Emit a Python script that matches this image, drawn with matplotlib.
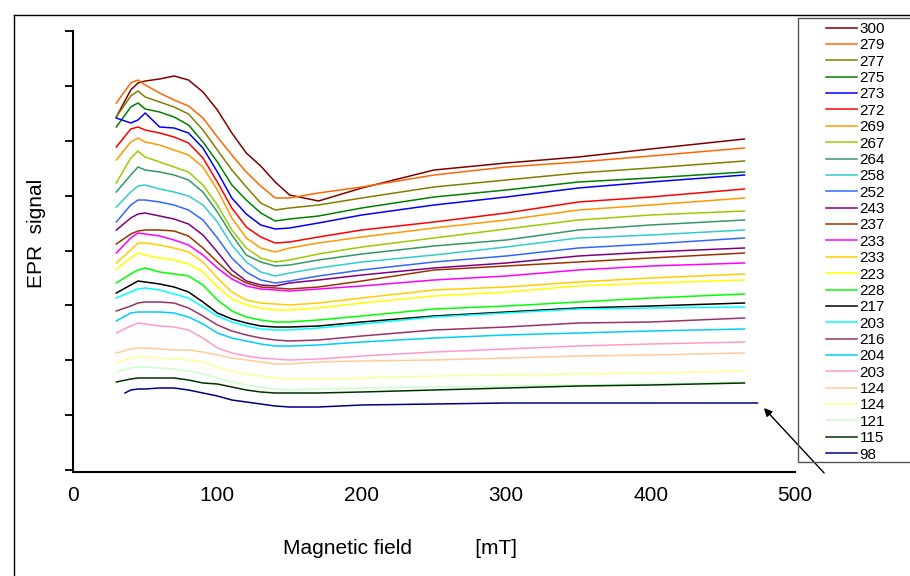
import numpy as np
import matplotlib
matplotlib.use("Agg")
import matplotlib.pyplot as plt
from matplotlib.patches import Rectangle
from matplotlib.lines import Line2D

plt.rcParams['font.family'] = ['Liberation Sans', 'DejaVu Sans']

# magnetic field (mT) where the traces were read
field = [30, 40, 45, 50, 60, 70, 80, 90, 100, 110, 120, 130, 140, 150, 170, 200, 250, 300, 350, 400, 465]
field_98 = [36, 40, 45, 50, 60, 70, 80, 90, 100, 110, 120, 130, 140, 150, 170, 200, 250, 300, 350, 400, 474]

# EPR signal (arbitrary units, stacked)
t300 = [353, 380, 387, 389, 391, 394, 390, 378, 360, 337, 317, 304, 288, 275, 269, 282, 300, 307, 313, 321, 331]
t279 = [367, 387, 390, 385, 377, 370, 364, 352, 333, 315, 298, 284, 272, 272, 277, 283, 295, 303, 308, 314, 322]
t277 = [353, 374, 379, 373, 368, 363, 356, 340, 320, 300, 283, 267, 260, 262, 265, 272, 283, 290, 297, 302, 309]
t275 = [343, 363, 367, 361, 358, 353, 345, 328, 308, 285, 270, 257, 249, 251, 254, 262, 273, 280, 288, 292, 298]
t273 = [352, 347, 350, 357, 343, 342, 337, 322, 298, 272, 256, 245, 241, 242, 247, 255, 265, 273, 282, 288, 295]
t272 = [323, 341, 343, 340, 337, 333, 327, 312, 288, 262, 243, 233, 227, 228, 233, 240, 248, 257, 268, 273, 281]
t269 = [310, 328, 332, 328, 325, 320, 315, 303, 280, 252, 232, 222, 218, 222, 227, 233, 242, 250, 260, 265, 272]
t267 = [287, 312, 319, 313, 308, 303, 298, 285, 265, 240, 222, 212, 208, 210, 216, 223, 232, 241, 250, 255, 259]
t264 = [278, 295, 303, 300, 298, 295, 290, 278, 258, 235, 215, 208, 204, 205, 210, 216, 224, 230, 240, 245, 250]
t258 = [263, 278, 284, 285, 281, 278, 274, 265, 248, 225, 208, 198, 194, 197, 202, 208, 215, 223, 232, 235, 240]
t252 = [248, 265, 270, 270, 268, 265, 260, 250, 232, 212, 198, 190, 187, 189, 194, 200, 208, 214, 222, 226, 232]
t243 = [240, 252, 256, 257, 254, 251, 246, 235, 218, 200, 189, 185, 184, 187, 190, 195, 202, 207, 214, 218, 222]
t237 = [226, 236, 239, 240, 240, 239, 234, 222, 208, 195, 187, 183, 182, 181, 183, 189, 200, 204, 208, 212, 217]
t233a = [217, 232, 237, 236, 234, 230, 225, 215, 202, 191, 184, 181, 180, 179, 181, 184, 190, 194, 200, 204, 207]
t233b = [207, 220, 227, 227, 225, 222, 218, 208, 192, 178, 170, 167, 166, 165, 167, 172, 180, 183, 188, 192, 196]
t223 = [201, 212, 217, 215, 212, 210, 206, 198, 183, 171, 165, 162, 160, 160, 162, 167, 174, 178, 184, 187, 190]
t228 = [187, 196, 200, 202, 198, 196, 194, 185, 170, 159, 153, 150, 148, 148, 150, 154, 161, 164, 168, 172, 176]
t217 = [177, 185, 189, 188, 186, 183, 178, 168, 157, 151, 147, 144, 143, 143, 144, 148, 154, 158, 162, 164, 167]
t203a = [172, 178, 181, 182, 180, 176, 172, 163, 154, 148, 144, 141, 140, 140, 142, 146, 153, 157, 161, 162, 163]
t216 = [159, 164, 167, 168, 168, 167, 162, 154, 145, 139, 135, 132, 130, 129, 130, 134, 140, 143, 147, 148, 152]
t204 = [149, 157, 158, 158, 158, 157, 153, 146, 137, 132, 129, 126, 124, 124, 125, 128, 132, 135, 137, 139, 141]
t203b = [137, 144, 147, 146, 144, 143, 140, 132, 122, 117, 114, 112, 111, 110, 111, 114, 118, 121, 124, 126, 128]
t124a = [117, 121, 122, 122, 121, 120, 120, 118, 115, 112, 110, 108, 106, 106, 108, 109, 110, 112, 114, 115, 117]
t124b = [107, 112, 113, 113, 112, 111, 110, 108, 103, 99, 96, 94, 92, 91, 91, 92, 94, 95, 96, 97, 99]
t121 = [98, 102, 103, 103, 102, 101, 99, 96, 92, 88, 85, 83, 81, 80, 81, 82, 83, 84, 85, 86, 88]
t115 = [88, 91, 92, 92, 92, 92, 90, 87, 86, 83, 80, 78, 77, 77, 77, 78, 80, 82, 84, 85, 87]
t98 = [77, 80, 81, 81, 82, 82, 80, 77, 74, 70, 68, 66, 64, 63, 63, 65, 66, 67, 67, 67, 67]

labels = ['300', '279', '277', '275', '273', '272', '269', '267', '264', '258', '252', '243', '237',
          '233', '233', '223', '228', '217', '203', '216', '204', '203', '124', '124', '121', '115', '98']
series = [t300, t279, t277, t275, t273, t272, t269, t267, t264, t258, t252, t243, t237,
          t233a, t233b, t223, t228, t217, t203a, t216, t204, t203b, t124a, t124b, t121, t115, t98]
colors = ['#800000', '#ff6600', '#808000', '#008000', '#0000ff', '#ff0000', '#ff9900', '#99cc00',
          '#339966', '#33cccc', '#3366ff', '#800080', '#993300', '#ff00ff', '#ffcc00', '#ffff00',
          '#00ff00', '#000000', '#00ffff', '#993366', '#00ccff', '#ff99cc', '#ffcc99', '#ffff99',
          '#ccffcc', '#003300', '#000080']

W, H = 910, 576
fig = plt.figure(figsize=(W / 100, H / 100), dpi=100)
ax = fig.add_axes([73 / W, 1 - 472 / H, (795 - 73) / W, (472 - 31) / H])

for lab, ys, c in zip(labels, series, colors):
    xs = field_98 if lab == '98' else field
    ax.plot(xs, ys, color=c, lw=1.1, label=lab)

ax.set_xlim(0, 500)
ax.set_ylim(-2, 439)
ax.set_xticks(np.arange(0, 501, 100))
ax.set_yticks(np.linspace(0, 439, 9))
ax.set_yticklabels([])
ax.tick_params(axis='y', direction='out', length=6, width=1.3)
ax.tick_params(axis='x', length=0, labelsize=15, pad=10)
for s in ['top', 'right']:
    ax.spines[s].set_visible(False)
for s in ['left', 'bottom']:
    ax.spines[s].set_linewidth(1.5)

fig.text(37 / W, 1 - 233 / H, 'EPR  signal', rotation=90, fontsize=15, ha='center', va='center')
fig.text(400 / W, 1 - 548 / H, 'Magnetic field           [mT]', fontsize=15, ha='center', va='center')

# legend with its own frame, running past the right edge
leg = ax.legend(loc='upper left', bbox_to_anchor=(826 / W, 1 - 22 / H), bbox_transform=fig.transFigure,
                frameon=False, fontsize=11, handlelength=2.0, handletextpad=0.2, labelspacing=0.155,
                borderpad=0, borderaxespad=0)
fig.patches.append(Rectangle((798 / W, 1 - 462 / H), 0.2, (462 - 18) / H, transform=fig.transFigure,
                             fill=False, lw=1.0, edgecolor='#555555'))

# outer chart frame
fig.lines.append(Line2D([14 / W, 14 / W], [0, 1 - 15 / H], transform=fig.transFigure, color='black', lw=1))
fig.lines.append(Line2D([14 / W, 1], [1 - 15 / H, 1 - 15 / H], transform=fig.transFigure, color='black', lw=1))

ax.annotate('', xy=(762, H - 406), xycoords='figure pixels', xytext=(826, H - 475),
            textcoords='figure pixels',
            arrowprops=dict(arrowstyle='-|>', color='black', lw=1, mutation_scale=12))

fig.savefig('out.png', dpi=100)
